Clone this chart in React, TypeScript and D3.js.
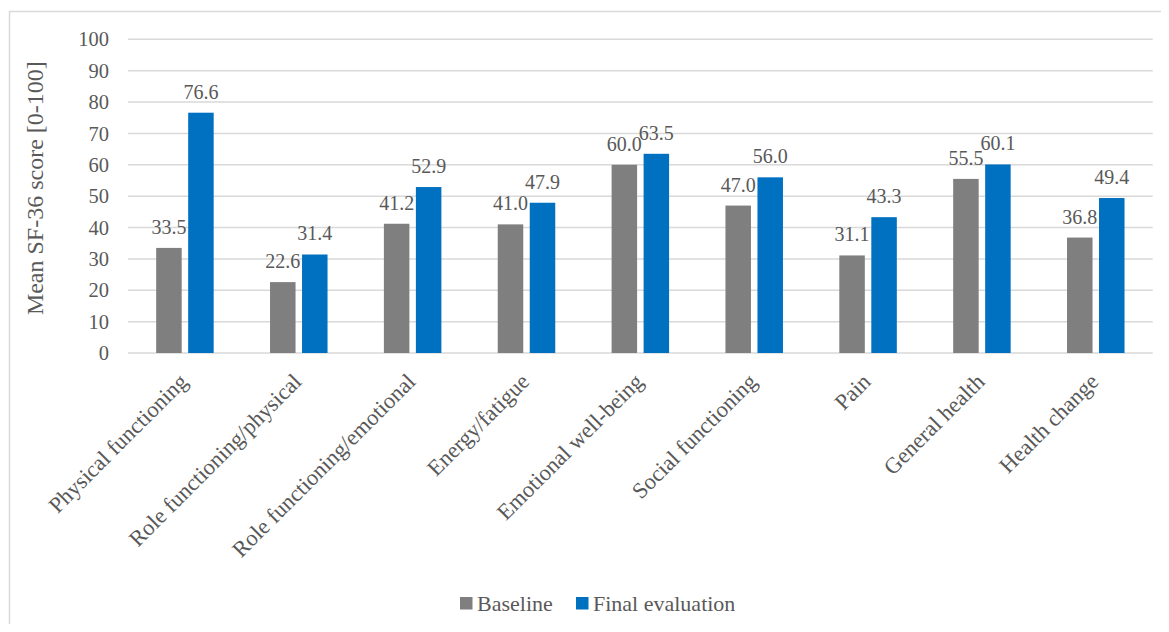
import React from "react";
import * as d3 from "d3";

const categories = [
  "Physical functioning",
  "Role functioning/physical",
  "Role functioning/emotional",
  "Energy/fatigue",
  "Emotional well-being",
  "Social functioning",
  "Pain",
  "General health",
  "Health change",
];
const baseline = [33.5, 22.6, 41.2, 41.0, 60.0, 47.0, 31.1, 55.5, 36.8];
const finalEval = [76.6, 31.4, 52.9, 47.9, 63.5, 56.0, 43.3, 60.1, 49.4];
const yTicks = [0, 10, 20, 30, 40, 50, 60, 70, 80, 90, 100];
const seriesNames = ["Baseline", "Final evaluation"];

const W = 1169;
const H = 632;
const FONT = "Liberation Serif, DejaVu Serif, serif";
const TXT = "#595959";
const GRID = "#d9d9d9";
const COLORS = ["#7f7f7f", "#0070c0"];

export default function App() {
  const left = 128;
  const right = 1152.7;
  const top = 39.3;
  const bottom = 353;
  const x = d3.scaleBand<string>().domain(categories).range([left, right]).padding(0);
  const y = d3.scaleLinear().domain([0, 100]).range([bottom, top]);
  const barW = 25.5;
  const gap = 6.5;
  const series = [baseline, finalEval];
  const ts = { fontFamily: FONT };

  return (
    <div style={{ margin: -8 }}>
      <svg width={W} height={H} style={{ display: "block", background: "#fff", fontFamily: FONT }}>
        <rect x={9.5} y={11.5} width={W + 20} height={H + 20} fill="#fff" stroke={GRID} strokeWidth={1.5} />
        {yTicks.map((t) => (
          <g key={t}>
            <line x1={left} x2={right} y1={y(t)} y2={y(t)} stroke={GRID} strokeWidth={1.5} />
            <text x={left - 19} y={y(t)} dy="0.35em" textAnchor="end" fontSize={20.5} fill={TXT} style={ts}>
              {t}
            </text>
          </g>
        ))}
        <text
          transform={`translate(43, ${(top + bottom) / 2 - 8}) rotate(-90)`}
          textAnchor="middle"
          fontSize={24}
          fill={TXT}
          style={ts}
        >
          Mean SF-36 score [0-100]
        </text>
        {categories.map((c, i) => {
          const cx = (x(c) as number) + x.bandwidth() / 2;
          return (
            <g key={c}>
              {series.map((s, k) => {
                const bx = k === 0 ? cx - gap / 2 - barW : cx + gap / 2;
                return (
                  <g key={k}>
                    <rect x={bx} y={y(s[i])} width={barW} height={y(0) - y(s[i])} fill={COLORS[k]} />
                    <text
                      x={bx + barW / 2}
                      y={y(s[i]) - 14}
                      textAnchor="middle"
                      fontSize={20}
                      fill={TXT}
                      style={ts}
                    >
                      {s[i].toFixed(1)}
                    </text>
                  </g>
                );
              })}
              <text
                transform={`translate(${cx + 4}, 383) rotate(-45)`}
                textAnchor="end"
                fontSize={22.5}
                fill={TXT}
                style={ts}
              >
                {c}
              </text>
            </g>
          );
        })}
        {seriesNames.map((n, k) => {
          const lx = k === 0 ? 460 : 576;
          return (
            <g key={n}>
              <rect x={lx} y={597} width={12.5} height={12.5} fill={COLORS[k]} />
              <text x={lx + 17} y={610.5} fontSize={22} fill={TXT} style={ts}>
                {n}
              </text>
            </g>
          );
        })}
      </svg>
    </div>
  );
}
